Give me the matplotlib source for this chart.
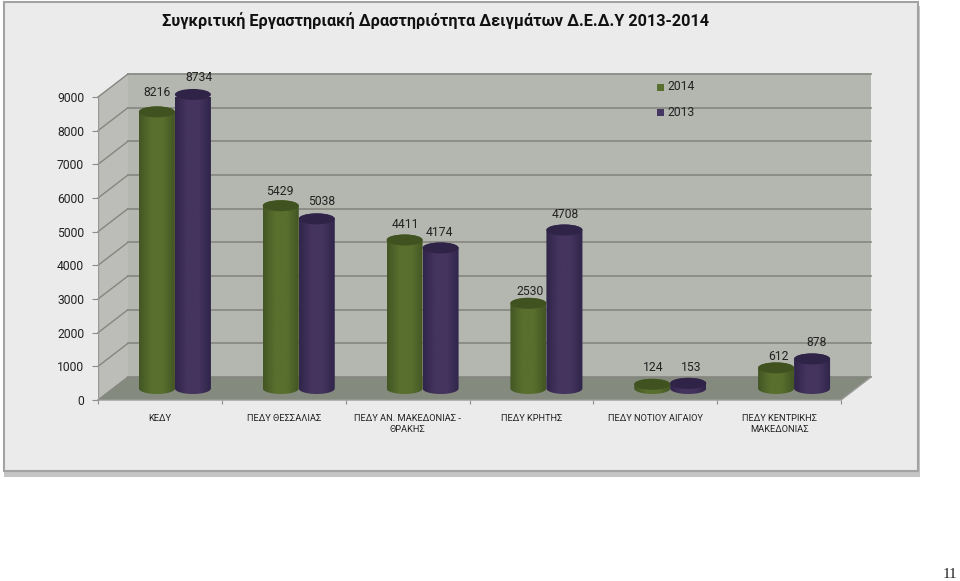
import numpy as np
import matplotlib
matplotlib.use('Agg')
import matplotlib.pyplot as plt
from matplotlib.patches import Rectangle, Polygon, Ellipse, PathPatch
from matplotlib.path import Path
from matplotlib.colors import LinearSegmentedColormap

plt.rcParams['font.family'] = ['Roboto', 'DejaVu Sans']

# data
categories = ['ΚΕΔΥ', 'ΠΕΔΥ ΘΕΣΣΑΛΙΑΣ', 'ΠΕΔΥ ΑΝ. ΜΑΚΕΔΟΝΙΑΣ -\nΘΡΑΚΗΣ', 'ΠΕΔΥ ΚΡΗΤΗΣ',
              'ΠΕΔΥ ΝΟΤΙΟΥ ΑΙΓΑΙΟΥ', 'ΠΕΔΥ ΚΕΝΤΡΙΚΗΣ\nΜΑΚΕΔΟΝΙΑΣ']
values_2014 = [8216, 5429, 4411, 2530, 124, 612]
values_2013 = [8734, 5038, 4174, 4708, 153, 878]
y_ticks = [0, 1000, 2000, 3000, 4000, 5000, 6000, 7000, 8000, 9000]
title = 'Συγκριτική Εργαστηριακή Δραστηριότητα Δειγμάτων Δ.Ε.Δ.Υ 2013-2014'

# label nudges in pixels (x right, y up), the labels are not evenly placed in the original
nudge_2014 = [(0, 19), (-1, 14), (1, 15), (2, 12), (1, 17), (2, 11)]
nudge_2013 = [(6, 17), (5, 17), (-1, 15), (1, 15), (3, 16), (4, 16)]

W, H = 960, 581
fig = plt.figure(figsize=(9.6, 5.81), dpi=100, facecolor='white')

# panel behind the chart, in pixels
bg = fig.add_axes([0, 0, 1, 1])
bg.set_xlim(0, W)
bg.set_ylim(H, 0)
bg.axis('off')
bg.add_patch(Rectangle((4, 6), 916, 471, fc='#c4c4c4', ec='none'))
bg.add_patch(Rectangle((4, 2), 914, 469, fc='#ebebeb', ec='#a3a3a3', lw=1.5))
bg.text(162, 21, title, fontsize=11.7, fontweight='bold', va='center', ha='left', color='#111111')
bg.text(950, 575, '11', fontsize=11, family='Liberation Serif', ha='center', va='center', color='#222222')

# plot axes = front plane of the 3D box
left, right, top, bottom = 98, 841, 97, 400
ax = fig.add_axes([left / W, 1 - bottom / H, (right - left) / W, (bottom - top) / H])
ax.set_xlim(0, 6)
ax.set_ylim(0, 9000)
ax.patch.set_alpha(0)
for s in ax.spines.values():
    s.set_visible(False)

px_x = 6 / (right - left)
px_y = 9000 / (bottom - top)
dx = 30 * px_x
dy = 23 * px_y

# walls and floor
wall_col = '#b4b6b0'
grid_col = '#85867f'
ax.add_patch(Polygon([(dx, dy), (6 + dx, dy), (6 + dx, 9000 + dy), (dx, 9000 + dy)],
                     fc=wall_col, ec='none', clip_on=False, zorder=1))
ax.add_patch(Polygon([(0, 0), (dx, dy), (dx, 9000 + dy), (0, 9000)],
                     fc='#bcbdb9', ec='none', clip_on=False, zorder=1))
ax.add_patch(Polygon([(0, 0), (6, 0), (6 + dx, dy), (dx, dy)],
                     fc='#858a7f', ec='none', clip_on=False, zorder=1))
for v in y_ticks:
    ax.plot([dx, 6 + dx], [v + dy, v + dy], color=grid_col, lw=1.2, clip_on=False, zorder=2)
    ax.plot([0, dx], [v, v + dy], color=grid_col, lw=1.0, clip_on=False, zorder=2)
ax.plot([0, 0], [0, 9000], color='#9a9a96', lw=1, zorder=2)
ax.plot([0, 6, 6 + dx], [0, 0, dy], color='#9a9a96', lw=1, clip_on=False, zorder=2)

# cylinders
half_w = 18 * px_x
half_h = 5.5 * px_y
base = dy / 2


def cylinder(xc, val, edge, mid, cap, z):
    y0 = base
    y1 = base + val
    t = np.linspace(np.pi, 2 * np.pi, 40)
    low = list(zip(xc + half_w * np.cos(t), y0 + half_h * np.sin(t)))
    t2 = np.linspace(0, np.pi, 40)
    up = list(zip(xc + half_w * np.cos(t2), y1 + half_h * np.sin(t2)))
    clip = Path(low + up + [low[0]])
    cmap = LinearSegmentedColormap.from_list('c', [edge, mid, mid, edge])
    im = ax.imshow(np.linspace(0, 1, 64)[None, :], cmap=cmap, aspect='auto', zorder=z,
                   extent=(xc - half_w, xc + half_w, y0 - half_h, y1 + half_h))
    im.set_clip_path(PathPatch(clip, transform=ax.transData))
    ax.add_patch(Ellipse((xc, y1), 2 * half_w, 2 * half_h, fc=cap, ec='none', zorder=z + 0.1, clip_on=False))


def bar_label(xc, val, nudge):
    # 1 px = 0.72 pt at dpi 100
    ax.annotate(str(val), (xc, base + val), xytext=(nudge[0] * 0.72, nudge[1] * 0.72),
                textcoords='offset points', ha='center', va='center', fontsize=8.7,
                color='#222222', zorder=5, annotation_clip=False)


green = ('#435624', '#586f2e', '#3f5220')
purple = ('#30254a', '#44345e', '#2f2347')
for i in range(len(categories)):
    xc = i + 0.5 + dx / 2
    cylinder(xc - half_w, values_2014[i], *green, 3)
    cylinder(xc + half_w, values_2013[i], *purple, 3.5)
    bar_label(xc - half_w, values_2014[i], nudge_2014[i])
    bar_label(xc + half_w, values_2013[i], nudge_2013[i])

ax.set_xlim(0, 6)
ax.set_ylim(0, 9000)

# ticks
ax.set_yticks(y_ticks)
ax.tick_params(axis='y', length=4, color='#8c8c8c', labelsize=8.7, pad=6, labelcolor='#222222')
ax.set_xticks(range(7))
ax.set_xticklabels([])
ax.tick_params(axis='x', length=3, color='#8c8c8c')
ax.set_xticks(np.arange(6) + 0.5, minor=True)
ax.set_xticklabels(categories, minor=True, fontsize=6.7, color='#222222', linespacing=1.3)
ax.tick_params(axis='x', which='minor', length=0, pad=10)

# legend on top of the walls
leg = fig.add_axes([0, 0, 1, 1])
leg.set_xlim(0, W)
leg.set_ylim(H, 0)
leg.axis('off')
leg.add_patch(Rectangle((657, 83.5), 7, 7, fc='#5a7030', ec='none'))
leg.add_patch(Rectangle((657, 108.5), 7, 7, fc='#463662', ec='none'))
leg.text(667, 87, '2014', fontsize=8.7, va='center', color='#222222')
leg.text(667, 112, '2013', fontsize=8.7, va='center', color='#222222')

fig.savefig('out.png', dpi=100)
